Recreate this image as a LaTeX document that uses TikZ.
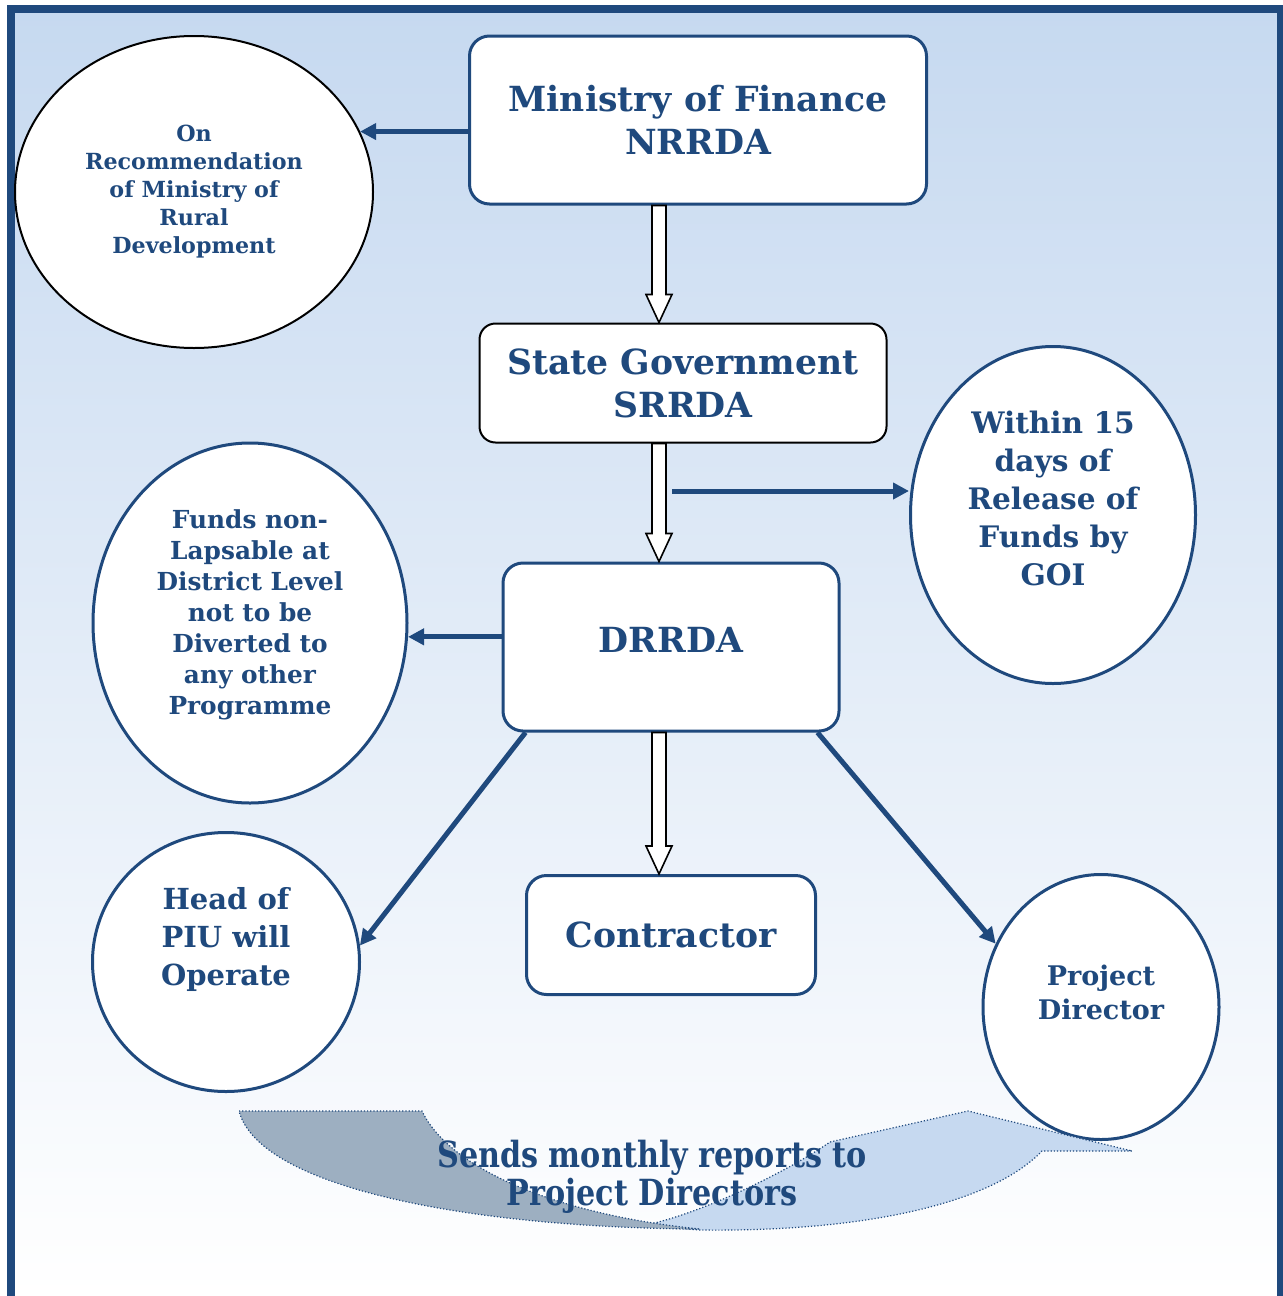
\documentclass[tikz,border=0pt]{standalone}
\usepackage{fontspec}
\setmainfont{DejaVu Serif}
\usetikzlibrary{shapes.geometric,arrows.meta,calc}

\definecolor{navy}{HTML}{1F497D}
\definecolor{skyfill}{HTML}{C6D9F0}
\definecolor{slatefill}{HTML}{9DAFC1}

\tikzset{
  box/.style={draw=navy, line width=1.5pt, rounded corners=10pt, fill=white, text=navy,
    font=\bfseries\fontsize{17.3}{21.5}\selectfont, align=center, inner sep=0pt},
  blackbox/.style={box, draw=black, line width=1pt, rounded corners=8pt},
  oval/.style={ellipse, draw=navy, line width=1.5pt, fill=white, text=navy, align=center, inner sep=0pt},
  feed/.style={draw=navy, line width=2.5pt, -{Triangle[length=8pt,width=8pt]}},
  hollow/.style={draw=black, line width=0.8pt, fill=white, line join=miter},
  band/.style={draw=navy, densely dotted, line width=0.6pt},
}

% open block arrow going straight down from #1 to #2
\newcommand{\hollowarrow}[2]{%
  \path[hollow] let \p1=(#1), \p2=(#2) in
    (\x1-3.5pt,\y1) -- (\x1-3.5pt,\y2+14pt) -- (\x1-6.5pt,\y2+14pt) -- (\x1,\y2)
    -- (\x1+6.5pt,\y2+14pt) -- (\x1+3.5pt,\y2+14pt) -- (\x1+3.5pt,\y1) -- cycle;}

\begin{document}
\begin{tikzpicture}[x=0.5pt,y=-0.5pt]
\useasboundingbox (0,0) rectangle (1282,1296);

% background and frame
\shade[top color=skyfill, bottom color=white] (11,9) rectangle (1281,1296);
\draw[navy, line width=4pt] (11,9) rectangle (1281,1300);

% boxes
\node[box, minimum width=228.5pt, minimum height=84pt] (mof) at (698,120) {Ministry of Finance\\NRRDA};
\node[blackbox, minimum width=203.5pt, minimum height=59.5pt] (state) at (683,383) {State Government\\SRRDA};
\node[box, minimum width=168pt, minimum height=84pt, text depth=7pt] (drrda) at (671,647) {DRRDA};
\node[box, minimum width=144.5pt, minimum height=59.5pt] (contr) at (671,935) {Contractor};

% ovals
\node[oval, draw=black, line width=1pt, minimum width=179pt, minimum height=156pt,
  font=\bfseries\fontsize{11.1}{14}\selectfont, text depth=3pt] (rec) at (194,192)
  {On\\Recommendation\\of Ministry of\\Rural\\Development};
\node[oval, minimum width=142.5pt, minimum height=168.5pt,
  font=\bfseries\fontsize{14.8}{19}\selectfont, text depth=17pt] (within) at (1053,515)
  {Within 15\\days of\\Release of\\Funds by\\GOI};
\node[oval, minimum width=157pt, minimum height=180pt,
  font=\bfseries\fontsize{12.4}{15.5}\selectfont, text depth=11pt] (funds) at (250,623)
  {Funds non-\\Lapsable at\\District Level\\not to be\\Diverted to\\any other\\Programme};
\node[oval, minimum width=133.5pt, minimum height=129.5pt,
  font=\bfseries\fontsize{14.5}{19}\selectfont, text depth=26pt] (head) at (226,962)
  {Head of\\PIU will\\Operate};
\node[oval, minimum width=118pt, minimum height=132.5pt,
  font=\bfseries\fontsize{13.5}{17}\selectfont, text depth=15pt] (pd) at (1101,1007)
  {Project\\Director};

% downward flow
\coordinate (spine) at (659,0);
\hollowarrow{spine |- mof.south}{spine |- state.north}
\hollowarrow{spine |- state.south}{spine |- drrda.north}
\hollowarrow{spine |- drrda.south}{spine |- contr.north}

% side arrows
\coordinate (w0) at (672,491);
\draw[feed] (mof.west |- rec.20) -- (rec.20);
\draw[feed] (w0) -- (w0 -| within.west);
\draw[feed] (drrda.west |- funds.-5) -- (funds.-5);
\draw[feed] ([xshift=12pt]drrda.south west) -- (head.7);
\draw[feed] ([xshift=-11.5pt]drrda.south east) -- (pd.149);

% curved report arrow
\fill[skyfill] (641,1226) .. controls (700,1215) and (790,1170) .. (830,1142) -- (968,1111)
  -- (1132,1151) -- (1042,1151) .. controls (990,1205) and (860,1232) .. (700,1230) -- cycle;
\draw[band] (641,1226) .. controls (700,1215) and (790,1170) .. (830,1142) -- (968,1111)
  -- (1132,1151) -- (1042,1151) .. controls (990,1205) and (860,1232) .. (700,1230) -- cycle;
\filldraw[band, fill=slatefill] (239,1111) -- (422,1111) .. controls (450,1170) and (560,1215) .. (700,1229)
  .. controls (480,1228) and (260,1190) .. (239,1111) -- cycle;
\node[text=navy, align=center, font=\bfseries\fontsize{18}{19}\selectfont] (sends) at (652,1177)
  {\scalebox{0.84}[1]{Sends monthly reports to}\\\scalebox{0.84}[1]{Project Directors}};
\end{tikzpicture}
\end{document}
